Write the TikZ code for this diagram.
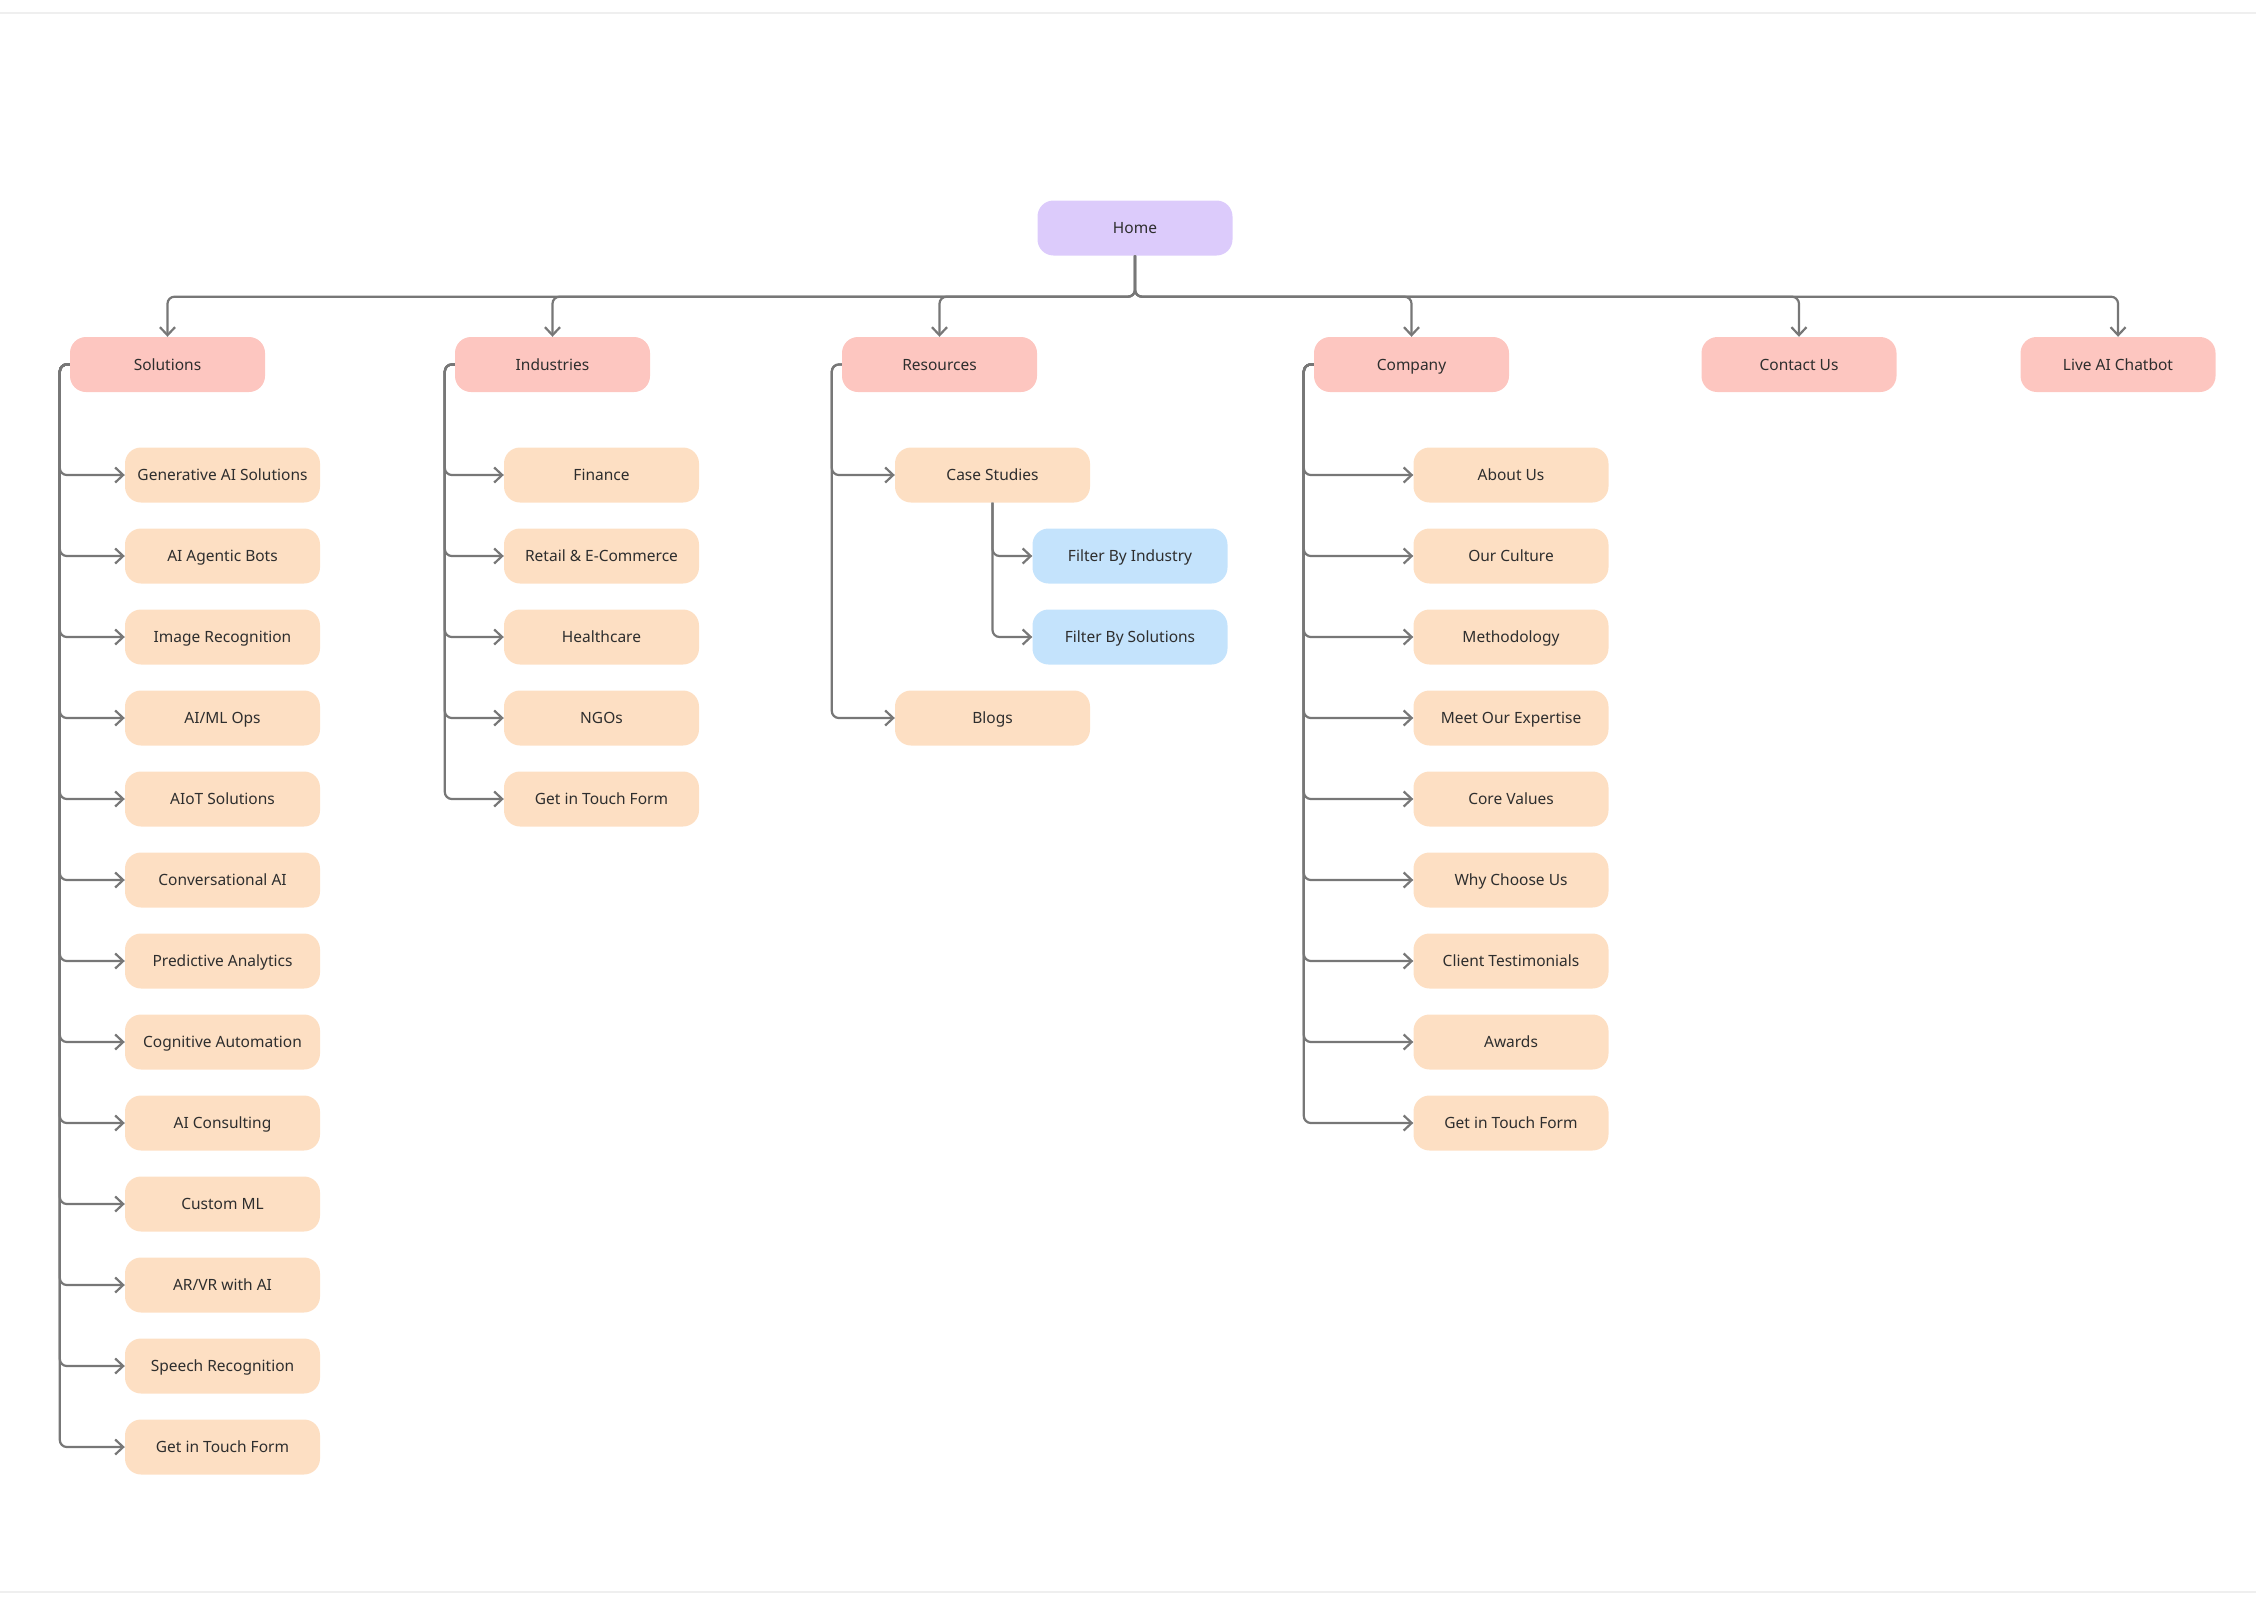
\documentclass[tikz,border=0pt]{standalone}
\usepackage{fontspec}
\setmainfont{Noto Sans}
\usetikzlibrary{arrows.meta}
\definecolor{homefill}{HTML}{DCCBFB}
\definecolor{topfill}{HTML}{FDC6C0}
\definecolor{leaffill}{HTML}{FDDFC3}
\definecolor{subfill}{HTML}{C4E3FC}
\definecolor{linkgray}{HTML}{777777}
\definecolor{txtgray}{HTML}{2E2E2E}
\definecolor{framegray}{HTML}{EFEFEF}
\tikzstyle{page}=[rounded corners=16pt,minimum width=195pt,minimum height=55pt,inner sep=0pt,text height=1.1em,text depth=0pt,text=txtgray,font=\fontsize{15.5}{18}\selectfont]
\tikzstyle{home}=[page,fill=homefill]
\tikzstyle{section}=[page,fill=topfill]
\tikzstyle{leaf}=[page,fill=leaffill]
\tikzstyle{filter}=[page,fill=subfill]
\tikzstyle{link}=[-{Straight Barb[length=8pt,width=15pt]},draw=linkgray,line width=2.2pt,rounded corners=7pt]

\begin{document}
\begin{tikzpicture}[x=1pt,y=-1pt]
                  \useasboundingbox (0,0) rectangle (2256,1600);
                  \draw [framegray,line width=2pt] (0,13) -- (2256,13);
                  \draw [framegray,line width=2pt] (0,1592) -- (2256,1592);

                  \node (home) at (1135,228) [home] {Home};

                  \node (sol) at (167.5,364.5) [section] {Solutions};
                  \node (ind) at (552.5,364.5) [section] {Industries};
                  \node (res) at (939.5,364.5) [section] {Resources};
                  \node (com) at (1411.5,364.5) [section] {Company};
                  \node (con) at (1799,364.5) [section] {Contact Us};
                  \node (bot) at (2118,364.5) [section] {Live AI Chatbot};

                  \node (s1) at (222.5,475) [leaf] {Generative AI Solutions};
                  \node (s2) at (222.5,556) [leaf] {AI Agentic Bots};
                  \node (s3) at (222.5,637) [leaf] {Image Recognition};
                  \node (s4) at (222.5,718) [leaf] {AI/ML Ops};
                  \node (s5) at (222.5,799) [leaf] {AIoT Solutions};
                  \node (s6) at (222.5,880) [leaf] {Conversational AI};
                  \node (s7) at (222.5,961) [leaf] {Predictive Analytics};
                  \node (s8) at (222.5,1042) [leaf] {Cognitive Automation};
                  \node (s9) at (222.5,1123) [leaf] {AI Consulting};
                  \node (s10) at (222.5,1204) [leaf] {Custom ML};
                  \node (s11) at (222.5,1285) [leaf] {AR/VR with AI};
                  \node (s12) at (222.5,1366) [leaf] {Speech Recognition};
                  \node (s13) at (222.5,1447) [leaf] {Get in Touch Form};

                  \node (i1) at (601.5,475) [leaf] {Finance};
                  \node (i2) at (601.5,556) [leaf] {Retail \& E-Commerce};
                  \node (i3) at (601.5,637) [leaf] {Healthcare};
                  \node (i4) at (601.5,718) [leaf] {NGOs};
                  \node (i5) at (601.5,799) [leaf] {Get in Touch Form};

                  \node (r1) at (992.5,475) [leaf] {Case Studies};
                  \node (f1) at (1130,556) [filter] {Filter By Industry};
                  \node (f2) at (1130,637) [filter] {Filter By Solutions};
                  \node (r2) at (992.5,718) [leaf] {Blogs};

                  \node (c1) at (1511,475) [leaf] {About Us};
                  \node (c2) at (1511,556) [leaf] {Our Culture};
                  \node (c3) at (1511,637) [leaf] {Methodology};
                  \node (c4) at (1511,718) [leaf] {Meet Our Expertise};
                  \node (c5) at (1511,799) [leaf] {Core Values};
                  \node (c6) at (1511,880) [leaf] {Why Choose Us};
                  \node (c7) at (1511,961) [leaf] {Client Testimonials};
                  \node (c8) at (1511,1042) [leaf] {Awards};
                  \node (c9) at (1511,1123) [leaf] {Get in Touch Form};

                  \draw [link] (home.south) -- ++(0,41) -| (sol.north);
                  \draw [link] (home.south) -- ++(0,41) -| (ind.north);
                  \draw [link] (home.south) -- ++(0,41) -| (res.north);
                  \draw [link] (home.south) -- ++(0,41) -| (com.north);
                  \draw [link] (home.south) -- ++(0,41) -| (con.north);
                  \draw [link] (home.south) -- ++(0,41) -| (bot.north);

                  \draw [link] (sol.west) -- ++(-10,0) |- (s1.west);
                  \draw [link] (sol.west) -- ++(-10,0) |- (s2.west);
                  \draw [link] (sol.west) -- ++(-10,0) |- (s3.west);
                  \draw [link] (sol.west) -- ++(-10,0) |- (s4.west);
                  \draw [link] (sol.west) -- ++(-10,0) |- (s5.west);
                  \draw [link] (sol.west) -- ++(-10,0) |- (s6.west);
                  \draw [link] (sol.west) -- ++(-10,0) |- (s7.west);
                  \draw [link] (sol.west) -- ++(-10,0) |- (s8.west);
                  \draw [link] (sol.west) -- ++(-10,0) |- (s9.west);
                  \draw [link] (sol.west) -- ++(-10,0) |- (s10.west);
                  \draw [link] (sol.west) -- ++(-10,0) |- (s11.west);
                  \draw [link] (sol.west) -- ++(-10,0) |- (s12.west);
                  \draw [link] (sol.west) -- ++(-10,0) |- (s13.west);

                  \draw [link] (ind.west) -- ++(-10,0) |- (i1.west);
                  \draw [link] (ind.west) -- ++(-10,0) |- (i2.west);
                  \draw [link] (ind.west) -- ++(-10,0) |- (i3.west);
                  \draw [link] (ind.west) -- ++(-10,0) |- (i4.west);
                  \draw [link] (ind.west) -- ++(-10,0) |- (i5.west);

                  \draw [link] (res.west) -- ++(-10,0) |- (r1.west);
                  \draw [link] (res.west) -- ++(-10,0) |- (r2.west);
                  \draw [link] (r1.south) |- (f1.west);
                  \draw [link] (r1.south) |- (f2.west);

                  \draw [link] (com.west) -- ++(-10,0) |- (c1.west);
                  \draw [link] (com.west) -- ++(-10,0) |- (c2.west);
                  \draw [link] (com.west) -- ++(-10,0) |- (c3.west);
                  \draw [link] (com.west) -- ++(-10,0) |- (c4.west);
                  \draw [link] (com.west) -- ++(-10,0) |- (c5.west);
                  \draw [link] (com.west) -- ++(-10,0) |- (c6.west);
                  \draw [link] (com.west) -- ++(-10,0) |- (c7.west);
                  \draw [link] (com.west) -- ++(-10,0) |- (c8.west);
                  \draw [link] (com.west) -- ++(-10,0) |- (c9.west);
\end{tikzpicture}
\end{document}
